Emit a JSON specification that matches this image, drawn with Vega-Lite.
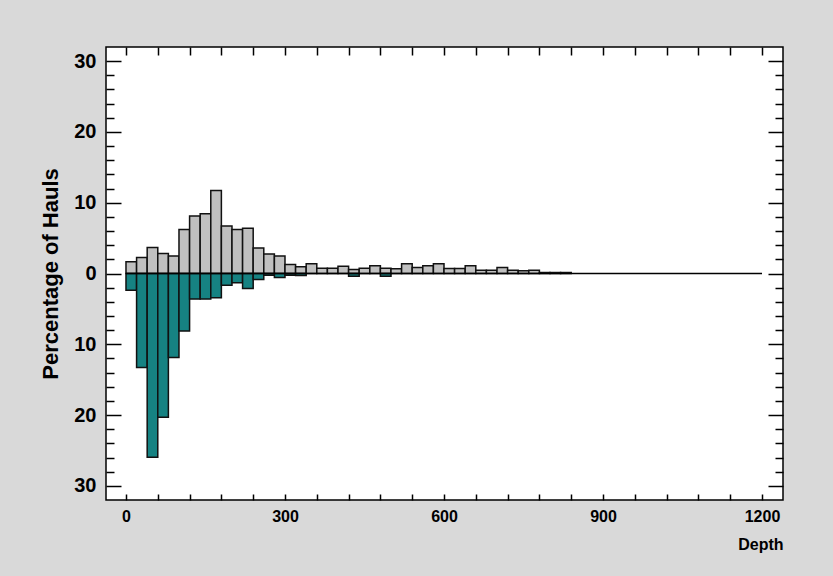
{
  "$schema": "https://vega.github.io/schema/vega-lite/v6.json",
  "width": 677,
  "height": 453,
  "autosize": {"type": "none"},
  "padding": {"left": 106, "top": 47, "right": 50, "bottom": 76},
  "background": "#d9d9d9",
  "config": {
    "view": {"fill": "white", "stroke": "black", "strokeWidth": 1.5},
    "axis": {"labelFont": "Liberation Sans", "titleFont": "Liberation Sans", "labelColor": "black", "titleColor": "black", "tickColor": "black", "grid": false, "domain": false}
  },
  "data": {
    "values": [
      {"bin": 1, "d0": 0, "d1": 20, "pos": 1.65, "neg": -2.35},
      {"bin": 2, "d0": 20, "d1": 40, "pos": 2.25, "neg": -13.28},
      {"bin": 3, "d0": 40, "d1": 60, "pos": 3.66, "neg": -25.96},
      {"bin": 4, "d0": 60, "d1": 80, "pos": 2.82, "neg": -20.32},
      {"bin": 5, "d0": 80, "d1": 100, "pos": 2.49, "neg": -11.87},
      {"bin": 6, "d0": 100, "d1": 120, "pos": 6.2, "neg": -8.13},
      {"bin": 7, "d0": 120, "d1": 140, "pos": 8.13, "neg": -3.62},
      {"bin": 8, "d0": 140, "d1": 160, "pos": 8.45, "neg": -3.62},
      {"bin": 9, "d0": 160, "d1": 180, "pos": 11.73, "neg": -3.42},
      {"bin": 10, "d0": 180, "d1": 200, "pos": 6.72, "neg": -1.65},
      {"bin": 11, "d0": 200, "d1": 220, "pos": 6.2, "neg": -1.31},
      {"bin": 12, "d0": 220, "d1": 240, "pos": 6.38, "neg": -2.11},
      {"bin": 13, "d0": 240, "d1": 260, "pos": 3.62, "neg": -0.85},
      {"bin": 14, "d0": 260, "d1": 280, "pos": 2.77, "neg": -0.24},
      {"bin": 15, "d0": 280, "d1": 300, "pos": 2.49, "neg": -0.56},
      {"bin": 16, "d0": 300, "d1": 320, "pos": 1.27, "neg": -0.24},
      {"bin": 17, "d0": 320, "d1": 340, "pos": 0.94, "neg": -0.3},
      {"bin": 18, "d0": 340, "d1": 360, "pos": 1.37, "neg": null},
      {"bin": 19, "d0": 360, "d1": 380, "pos": 0.75, "neg": null},
      {"bin": 20, "d0": 380, "d1": 400, "pos": 0.75, "neg": null},
      {"bin": 21, "d0": 400, "d1": 420, "pos": 1.03, "neg": null},
      {"bin": 22, "d0": 420, "d1": 440, "pos": 0.56, "neg": -0.38},
      {"bin": 23, "d0": 440, "d1": 460, "pos": 0.75, "neg": null},
      {"bin": 24, "d0": 460, "d1": 480, "pos": 1.08, "neg": null},
      {"bin": 25, "d0": 480, "d1": 500, "pos": 0.75, "neg": -0.38},
      {"bin": 26, "d0": 500, "d1": 520, "pos": 0.66, "neg": null},
      {"bin": 27, "d0": 520, "d1": 540, "pos": 1.37, "neg": null},
      {"bin": 28, "d0": 540, "d1": 560, "pos": 0.85, "neg": null},
      {"bin": 29, "d0": 560, "d1": 580, "pos": 1.1, "neg": null},
      {"bin": 30, "d0": 580, "d1": 600, "pos": 1.38, "neg": null},
      {"bin": 31, "d0": 600, "d1": 620, "pos": 0.7, "neg": null},
      {"bin": 32, "d0": 620, "d1": 640, "pos": 0.7, "neg": null},
      {"bin": 33, "d0": 640, "d1": 660, "pos": 1.08, "neg": null},
      {"bin": 34, "d0": 660, "d1": 680, "pos": 0.46, "neg": null},
      {"bin": 35, "d0": 680, "d1": 700, "pos": 0.46, "neg": null},
      {"bin": 36, "d0": 700, "d1": 720, "pos": 0.85, "neg": null},
      {"bin": 37, "d0": 720, "d1": 740, "pos": 0.46, "neg": null},
      {"bin": 38, "d0": 740, "d1": 760, "pos": 0.38, "neg": null},
      {"bin": 39, "d0": 760, "d1": 780, "pos": 0.46, "neg": null},
      {"bin": 40, "d0": 780, "d1": 800, "pos": 0.14, "neg": null},
      {"bin": 41, "d0": 800, "d1": 820, "pos": 0.14, "neg": null},
      {"bin": 42, "d0": 820, "d1": 840, "pos": 0.14, "neg": null},
      {"bin": 43, "d0": 840, "d1": 860, "pos": null, "neg": null},
      {"bin": 44, "d0": 860, "d1": 880, "pos": null, "neg": null},
      {"bin": 45, "d0": 880, "d1": 900, "pos": null, "neg": null},
      {"bin": 46, "d0": 900, "d1": 920, "pos": null, "neg": null},
      {"bin": 47, "d0": 920, "d1": 940, "pos": null, "neg": null},
      {"bin": 48, "d0": 940, "d1": 960, "pos": null, "neg": null},
      {"bin": 49, "d0": 960, "d1": 980, "pos": null, "neg": null},
      {"bin": 50, "d0": 980, "d1": 1000, "pos": null, "neg": null},
      {"bin": 51, "d0": 1000, "d1": 1020, "pos": null, "neg": null},
      {"bin": 52, "d0": 1020, "d1": 1040, "pos": null, "neg": null},
      {"bin": 53, "d0": 1040, "d1": 1060, "pos": null, "neg": null},
      {"bin": 54, "d0": 1060, "d1": 1080, "pos": null, "neg": null},
      {"bin": 55, "d0": 1080, "d1": 1100, "pos": null, "neg": null},
      {"bin": 56, "d0": 1100, "d1": 1120, "pos": null, "neg": null},
      {"bin": 57, "d0": 1120, "d1": 1140, "pos": null, "neg": null},
      {"bin": 58, "d0": 1140, "d1": 1160, "pos": null, "neg": null},
      {"bin": 59, "d0": 1160, "d1": 1180, "pos": null, "neg": null},
      {"bin": 60, "d0": 1180, "d1": 1200, "pos": null, "neg": null}
    ]
  },
  "resolve": {"axis": {"x": "independent", "y": "independent"}},
  "layer": [
    {
      "mark": {"type": "bar", "fill": "#c0c0c0", "stroke": "#111111", "strokeWidth": 1.5},
      "encoding": {
        "x": {
          "field": "d0", "type": "quantitative",
          "scale": {"domain": [-37.7, 1239.6], "nice": false, "zero": false},
          "axis": {
            "orient": "bottom",
            "values": [0, 60, 120, 180, 240, 300, 360, 420, 480, 540, 600, 660, 720, 780, 840, 900, 960, 1020, 1080, 1140, 1200],
            "format": "d",
            "labelExpr": "datum.value % 300 === 0 ? datum.label : ''",
            "tickSize": -6, "tickWidth": 1.5, "labelPadding": 14,
            "labelFontSize": 16, "labelFontWeight": "bold",
            "title": "Depth", "titleFontSize": 16, "titleFontWeight": "bold",
            "titleAnchor": "end", "titlePadding": 12
          }
        },
        "x2": {"field": "d1"},
        "y": {
          "field": "pos", "type": "quantitative",
          "scale": {"domain": [-32, 32], "nice": false},
          "axis": {
            "orient": "left",
            "values": [-30, -28, -26, -24, -22, -20, -18, -16, -14, -12, -10, -8, -6, -4, -2, 0, 2, 4, 6, 8, 10, 12, 14, 16, 18, 20, 22, 24, 26, 28, 30],
            "labelExpr": "datum.value % 10 === 0 ? '' + abs(datum.value) : ''",
            "tickSize": {"condition": {"test": "datum.value % 10 === 0", "value": -15}, "value": -8},
            "tickWidth": 1.5,
            "labelPadding": 25,
            "labelFontSize": 20, "labelFontWeight": "bold",
            "title": "Percentage of Hauls", "titleFontSize": 22, "titleFontWeight": "bold",
            "titlePadding": 11
          }
        },
        "y2": {"datum": 0}
      }
    },
    {
      "mark": {"type": "bar", "fill": "#168282", "stroke": "#111111", "strokeWidth": 1.5},
      "encoding": {
        "x": {"field": "d0", "type": "quantitative", "axis": null},
        "x2": {"field": "d1"},
        "y": {"field": "neg", "type": "quantitative", "axis": null},
        "y2": {"datum": 0}
      }
    },
    {
      "mark": {"type": "rule", "color": "black", "strokeWidth": 1.5},
      "encoding": {
        "x": {
          "aggregate": "min", "field": "d0", "type": "quantitative",
          "axis": {
            "orient": "top", "title": null, "labels": false,
            "values": [0, 60, 120, 180, 240, 300, 360, 420, 480, 540, 600, 660, 720, 780, 840, 900, 960, 1020, 1080, 1140, 1200],
            "tickSize": -8, "tickWidth": 1.5
          }
        },
        "x2": {"aggregate": "max", "field": "d1"},
        "y": {
          "datum": 0, "type": "quantitative",
          "axis": {
            "orient": "right", "title": null, "labels": false,
            "values": [-30, -28, -26, -24, -22, -20, -18, -16, -14, -12, -10, -8, -6, -4, -2, 0, 2, 4, 6, 8, 10, 12, 14, 16, 18, 20, 22, 24, 26, 28, 30],
            "tickSize": {"condition": {"test": "datum.value % 10 === 0", "value": -15}, "value": -8},
            "tickWidth": 1.5
          }
        }
      }
    }
  ]
}
